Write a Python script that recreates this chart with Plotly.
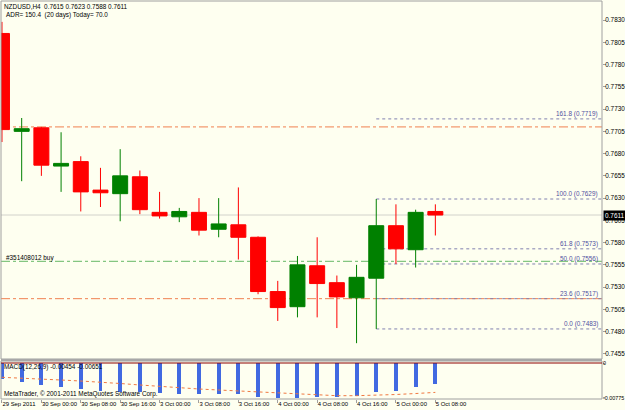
import plotly.graph_objects as go

# ---------------- data ----------------
bars = list(range(23))
opens  = [0.7815, 0.7705, 0.7709, 0.7666, 0.7671, 0.7639, 0.7635, 0.7654, 0.7614, 0.7609, 0.7614, 0.7595,
          0.7600, 0.7586, 0.7525, 0.7508, 0.7554, 0.7535, 0.7518, 0.7540, 0.7599, 0.7572, 0.7615]
highs  = [0.7828, 0.7720, 0.7710, 0.7704, 0.7677, 0.7664, 0.7685, 0.7661, 0.7637, 0.7619, 0.7630, 0.7630,
          0.7642, 0.7587, 0.7537, 0.7565, 0.7586, 0.7543, 0.7555, 0.7629, 0.7623, 0.7617, 0.7623]
lows   = [0.7693, 0.7649, 0.7655, 0.7637, 0.7615, 0.7620, 0.7604, 0.7612, 0.7607, 0.7603, 0.7588, 0.7586,
          0.7561, 0.7522, 0.7492, 0.7496, 0.7496, 0.7484, 0.7467, 0.7483, 0.7556, 0.7552, 0.7588]
closes = [0.7707, 0.7708, 0.7667, 0.7669, 0.7637, 0.7636, 0.7655, 0.7617, 0.7610, 0.7615, 0.7594, 0.7601,
          0.7586, 0.7525, 0.7507, 0.7555, 0.7534, 0.7519, 0.7541, 0.7599, 0.7573, 0.7614, 0.7611]

macd   = [-0.00361, -0.00414, -0.00487, -0.00525, -0.00583, -0.00620, -0.00636, -0.00649, -0.00671, -0.00687,
          -0.00693, -0.00693, -0.00687, -0.00746, -0.00775, -0.00769, -0.00760, -0.00760, -0.00724, -0.00649,
          -0.00614, -0.00538, -0.00454]
signal = [-0.00317, -0.00332, -0.00354, -0.00377, -0.00399, -0.00421, -0.00454, -0.00487, -0.00520, -0.00547,
          -0.00576, -0.00598, -0.00620, -0.00642, -0.00671, -0.00693, -0.00715, -0.00724, -0.00724, -0.00715,
          -0.00698, -0.00676, -0.00651]

time_tick_bars = [0, 2, 4, 6, 8, 10, 12, 14, 16, 18, 20, 22]
time_tick_labels = ["29 Sep 2011", "30 Sep 00:00", "30 Sep 08:00", "30 Sep 16:00", "3 Oct 00:00", "3 Oct 08:00",
                    "3 Oct 16:00", "4 Oct 00:00", "4 Oct 08:00", "4 Oct 16:00", "5 Oct 00:00", "5 Oct 08:00"]

price_ticks = [0.7455, 0.7480, 0.7505, 0.7530, 0.7555, 0.7580, 0.7605, 0.7630, 0.7655, 0.7680,
               0.7705, 0.7730, 0.7755, 0.7780, 0.7805, 0.7830]
macd_ticks = [0, -0.00775]
macd_tick_labels = ["0", "-0.00775"]

fib_anchor_bar = 19
fib_levels = ["161.8", "100.0", "61.8", "50.0", "23.6", "0.0"]
fib_prices = [0.7719, 0.7629, 0.7573, 0.7556, 0.7517, 0.7483]

order_price = 0.7559          # "#351408012 buy"
order_label = "#351408012 buy"
stop_prices = [0.7710, 0.7517]
bid_price = 0.7611

# ---------------- layout helpers ----------------
W, H = 625, 410
ML, MR, MT, MB = 1, 23, 1, 11
PW, PH = W - ML - MR, H - MT - MB

def px(x):
    return (x - ML) / PW

def py(y):
    return (H - MB - y) / PH

X_RANGE = [-0.05, 30.46]
MAIN_DOM = [py(359), 1.0]
MACD_DOM = [0.0, py(361)]
P_RANGE = [0.744922, 0.785147]
M_RANGE = [-0.007974, 0.000443]

FONT = "Liberation Sans, Arial, sans-serif"
FS = 6.4
BG = "#FEFFF0"
AXC = "#A0A0A0"

fig = go.Figure()

fig.add_trace(go.Candlestick(
    x=bars, open=opens, high=highs, low=lows, close=closes,
    increasing=dict(line=dict(color="#008000", width=1), fillcolor="#008000"),
    decreasing=dict(line=dict(color="#FF0000", width=1), fillcolor="#FF0000"),
    whiskerwidth=0, xaxis="x", yaxis="y", showlegend=False, hoverinfo="skip"))

fig.add_trace(go.Bar(
    x=bars, y=macd, width=0.2, marker=dict(color="#4169E1", line=dict(width=0)),
    xaxis="x", yaxis="y2", showlegend=False, hoverinfo="skip"))

fig.add_trace(go.Scatter(
    x=bars, y=signal, mode="lines", line=dict(color="#F07840", width=1, dash="dot"),
    xaxis="x", yaxis="y2", showlegend=False, hoverinfo="skip"))

shapes = []
# bid line
shapes.append(dict(type="line", xref="paper", yref="y", x0=0, x1=1, y0=bid_price, y1=bid_price,
                   line=dict(color="#D2D2CC", width=1), layer="below"))
# stop / target lines
for p in stop_prices:
    shapes.append(dict(type="line", xref="paper", yref="y", x0=0, x1=1, y0=p, y1=p,
                       line=dict(color="#F08050", width=1, dash="dashdot"), layer="below"))
# order line
shapes.append(dict(type="line", xref="paper", yref="y", x0=0, x1=1, y0=order_price, y1=order_price,
                   line=dict(color="#66B866", width=1, dash="dashdot"), layer="below"))
# fibonacci levels
for p in fib_prices:
    shapes.append(dict(type="line", xref="x", yref="y", x0=fib_anchor_bar, x1=X_RANGE[1], y0=p, y1=p,
                       line=dict(color="#8080B0", width=1, dash="dot"), layer="below"))
# panel borders
shapes.append(dict(type="rect", xref="paper", yref="paper", x0=0, x1=1, y0=MAIN_DOM[0], y1=1,
                   line=dict(color=AXC, width=1)))
shapes.append(dict(type="rect", xref="paper", yref="paper", x0=0, x1=1, y0=0, y1=MACD_DOM[1],
                   line=dict(color=AXC, width=1)))
shapes.append(dict(type="rect", xref="paper", yref="paper", x0=0, x1=1, y0=MACD_DOM[1], y1=MAIN_DOM[0],
                   line=dict(width=0), fillcolor="#A8A8A8"))
# MACD zero line
shapes.append(dict(type="line", xref="paper", yref="y2", x0=0, x1=1, y0=0, y1=0,
                   line=dict(color="#8B0000", width=1)))

annotations = []
def txt(t, x, y, color="black", xanchor="left"):
    annotations.append(dict(text=t, xref="paper", yref="paper", x=px(x), y=py(y),
                            xanchor=xanchor, yanchor="middle", showarrow=False,
                            font=dict(family=FONT, size=FS, color=color), borderpad=0))

txt("NZDUSD,H4  0.7615 0.7623 0.7588 0.7611", 3, 6)
txt("ADR= 150.4  (20 days) Today= 70.0", 5, 15)
txt(order_label, 5, 258)
txt("MACD(12,26,9) -0.00454 -0.00651", 3, 367)
txt("MetaTrader, © 2001-2011 MetaQuotes Software Corp.", 3, 394)

for lvl, p in zip(fib_levels, fib_prices):
    annotations.append(dict(text=f"{lvl} ({p:.4f})", xref="paper", yref="y", x=px(599), y=p,
                            xanchor="right", yanchor="bottom", showarrow=False, yshift=0,
                            font=dict(family=FONT, size=FS, color="#5050A0"), borderpad=0))

annotations.append(dict(text=f"{bid_price:.4f}", xref="paper", yref="y", x=px(603), y=bid_price,
                        xanchor="left", yanchor="middle", showarrow=False, bgcolor="black",
                        font=dict(family=FONT, size=FS, color="white"), borderpad=1))

fig.update_layout(
    width=W, height=H, margin=dict(l=ML, r=MR, t=MT, b=MB, autoexpand=False),
    paper_bgcolor=BG, plot_bgcolor=BG, showlegend=False,
    boxgap=0.24, boxgroupgap=0, bargap=0,
    shapes=shapes, annotations=annotations,
    xaxis=dict(range=X_RANGE, anchor="y2", domain=[0, 1], rangeslider=dict(visible=False),
               tickmode="array", tickvals=time_tick_bars, ticktext=time_tick_labels,
               ticks="outside", ticklen=3, tickcolor=AXC, ticklabelposition="outside right",
               tickangle=0, automargin=False, ticklabelstandoff=-1,
               tickfont=dict(family=FONT, size=5.9, color="black"),
               showgrid=False, zeroline=False, showline=False, fixedrange=True),
    yaxis=dict(domain=MAIN_DOM, range=P_RANGE, side="right", anchor="x", automargin=False,
               tickmode="array", tickvals=price_ticks, tickformat=".4f",
               ticks="outside", ticklen=3, tickcolor=AXC, ticklabelstandoff=-2,
               tickfont=dict(family=FONT, size=FS, color="black"),
               showgrid=False, zeroline=False, showline=False),
    yaxis2=dict(domain=MACD_DOM, range=M_RANGE, side="right", anchor="x", automargin=False,
                tickmode="array", tickvals=macd_ticks, ticktext=macd_tick_labels,
                ticks="outside", ticklen=2, tickcolor=AXC, ticklabelstandoff=-3,
                tickfont=dict(family=FONT, size=5.4, color="black"),
                showgrid=False, zeroline=False, showline=False),
)

fig.write_html("out.html")
